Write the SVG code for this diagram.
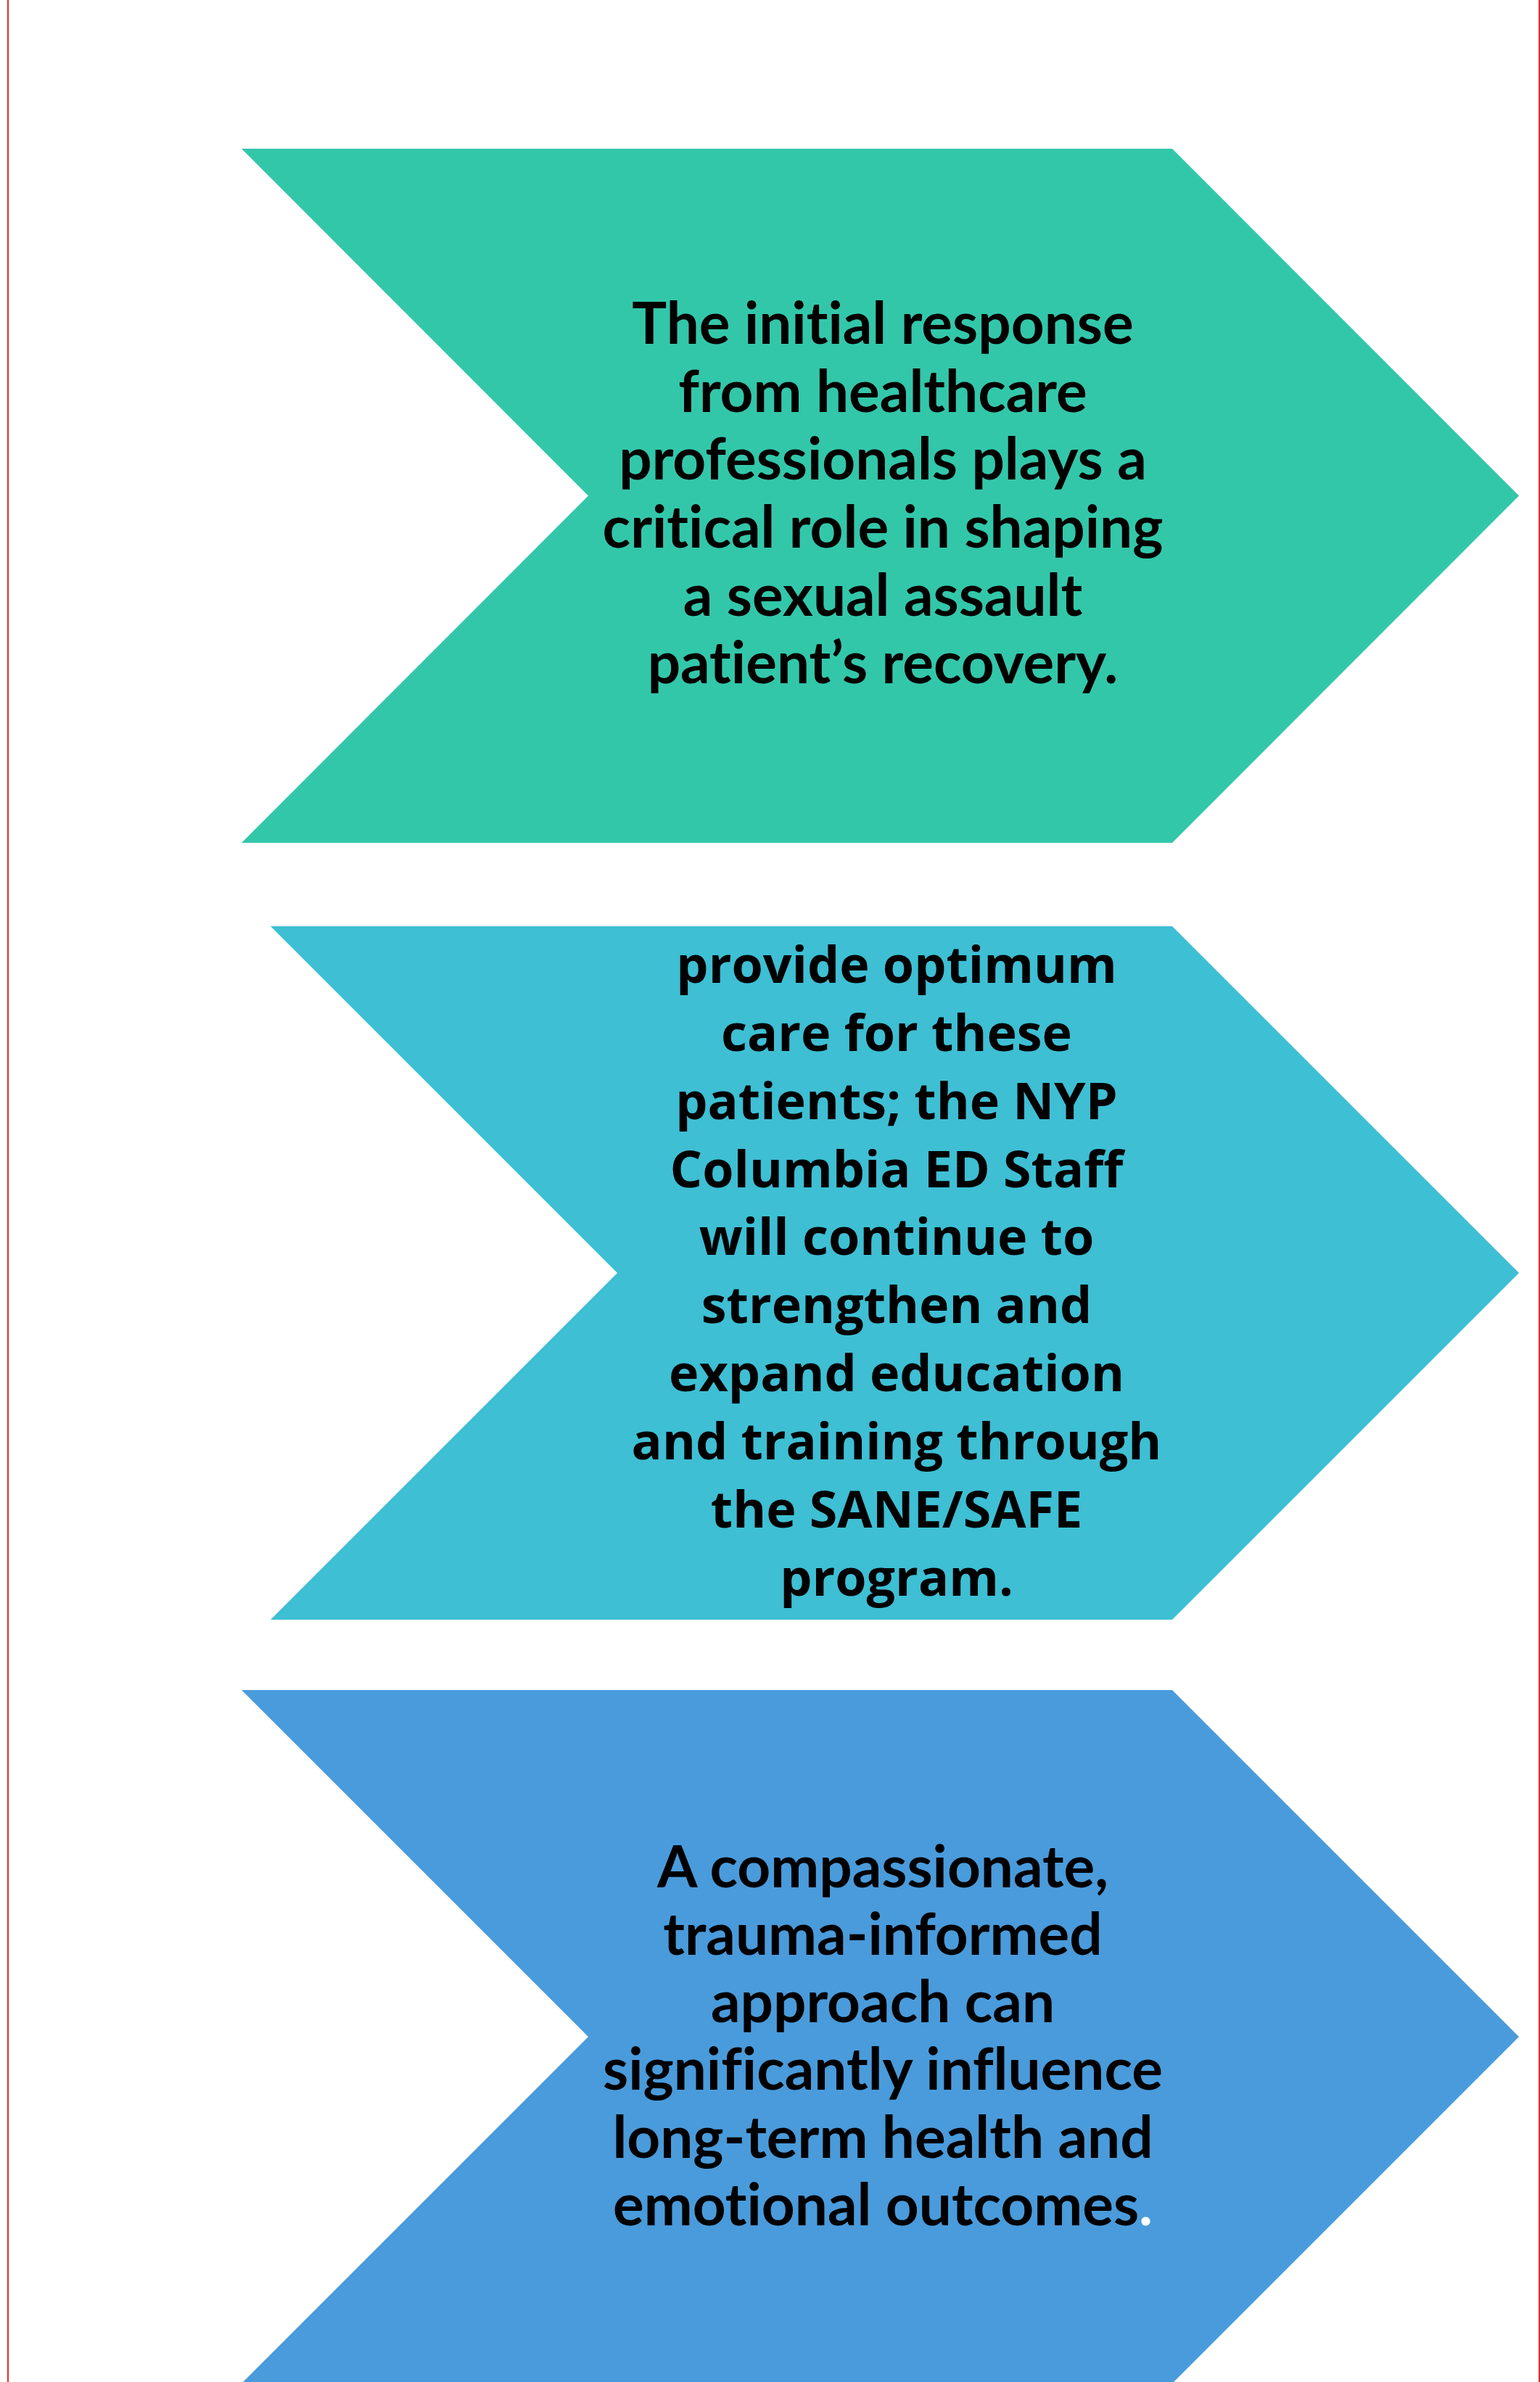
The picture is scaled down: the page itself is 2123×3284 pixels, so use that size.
<svg xmlns="http://www.w3.org/2000/svg" width="2123" height="3284" viewBox="0 0 2123 3284">
<style>
.t1{font-family:Lato,"Liberation Sans",sans-serif;font-weight:bold;font-size:80px;fill:#000;text-anchor:middle;font-variant-ligatures:none}
.t2{font-family:"Open Sans","Liberation Sans",sans-serif;font-weight:bold;font-size:70px;fill:#000;text-anchor:middle;font-variant-ligatures:none}
.border{stroke:#E0302A;stroke-width:2;fill:none}
</style>
<rect x="0" y="0" width="2123" height="3284" fill="#FFFFFF"/>
<line class="border" x1="11" y1="0" x2="11" y2="3284"/>
<line class="border" x1="2122" y1="0" x2="2122" y2="3284" stroke="#C8281E"/>
<g id="node1">
<polygon points="333,205 1616,205 2094,683.5 1616,1162 333,1162 811,683.5" fill="#33C7AA"/>
<text class="t1" x="1217" y="474">The initial response</text>
<text class="t1" x="1217" y="568">from healthcare</text>
<text class="t1" x="1217" y="661">professionals plays a</text>
<text class="t1" x="1217" y="755">critical role in shaping</text>
<text class="t1" x="1217" y="849">a sexual assault</text>
<text class="t1" x="1217" y="942">patient’s recovery.</text>
</g>
<g id="node2">
<polygon points="373,1277 1616,1277 2094,1755 1616,2233 373,2233 851,1755" fill="#3EBFD4"/>
<text class="t2" x="1236" y="1355">provide optimum</text>
<text class="t2" x="1236" y="1449">care for these</text>
<text class="t2" x="1236" y="1543">patients; the NYP</text>
<text class="t2" x="1236" y="1637">Columbia ED Staff</text>
<text class="t2" x="1236" y="1730">will continue to</text>
<text class="t2" x="1236" y="1824">strengthen and</text>
<text class="t2" x="1236" y="1918">expand education</text>
<text class="t2" x="1236" y="2012">and training through</text>
<text class="t2" x="1236" y="2106">the SANE/SAFE</text>
<text class="t2" x="1236" y="2200">program.</text>
</g>
<g id="node3">
<polygon points="333,2330 1616,2330 2094,2808 1616,3286 333,3286 811,2808" fill="#4A9BDB"/>
<text class="t1" x="1217" y="2602">A compassionate,</text>
<text class="t1" x="1217" y="2695">trauma-informed</text>
<text class="t1" x="1217" y="2788">approach can</text>
<text class="t1" x="1217" y="2881">significantly influence</text>
<text class="t1" x="1217" y="2975">long-term health and</text>
<text class="t1" x="1217" y="3068">emotional outcomes<tspan fill="#FFFFFF">.</tspan></text>
</g>
<g id="connectors"></g>
</svg>
